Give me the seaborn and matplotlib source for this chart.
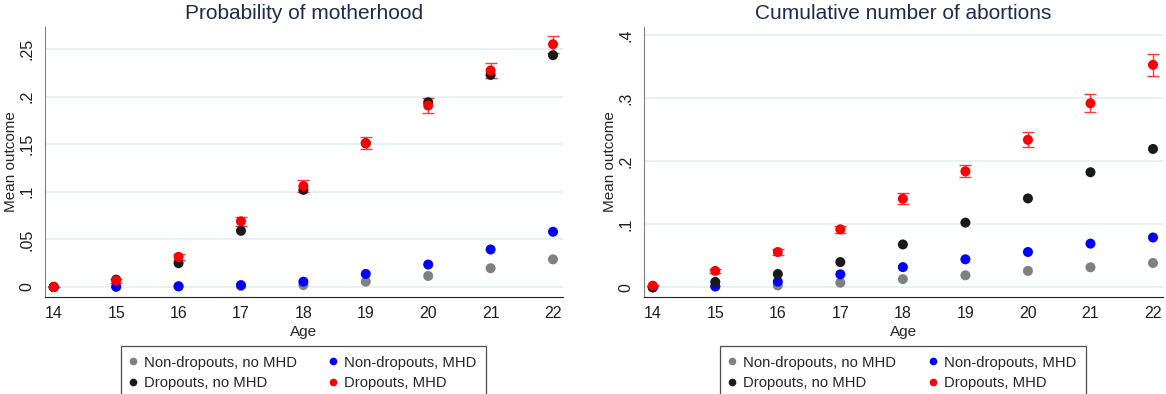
import matplotlib
matplotlib.use('Agg')
import matplotlib.pyplot as plt
from matplotlib.lines import Line2D
import seaborn as sns
import pandas as pd

sns.set_style('white')
plt.rcParams['font.family'] = ['Liberation Sans', 'DejaVu Sans']

ages = [14, 15, 16, 17, 18, 19, 20, 21, 22]
groups = ['Non-dropouts, no MHD', 'Non-dropouts, MHD',
          'Dropouts, no MHD', 'Dropouts, MHD']
colors = {'Non-dropouts, no MHD': '#808080',
          'Non-dropouts, MHD': '#0000ff',
          'Dropouts, no MHD': '#1a1a1a',
          'Dropouts, MHD': '#ff0000'}

# probability of motherhood
moth_nd_nomhd = [0.0, 0.0003, 0.0005, 0.001, 0.002, 0.0056, 0.0116, 0.0197, 0.029]
moth_nd_mhd = [0.0, 0.0003, 0.0008, 0.002, 0.0056, 0.0137, 0.0236, 0.0394, 0.058]
moth_d_nomhd = [0.0, 0.0077, 0.025, 0.059, 0.102, 0.151, 0.194, 0.2227, 0.2434]
moth_d_mhd = [0.0, 0.0067, 0.0317, 0.069, 0.106, 0.151, 0.1906, 0.2273, 0.2549]
moth_d_mhd_ci = [0.0, 0.002, 0.003, 0.005, 0.006, 0.006, 0.008, 0.008, 0.0087]

# cumulative number of abortions
abort_nd_nomhd = [0.0, 0.001, 0.003, 0.0074, 0.013, 0.019, 0.026, 0.0317, 0.0386]
abort_nd_mhd = [0.0, 0.0016, 0.009, 0.0206, 0.032, 0.0444, 0.056, 0.0693, 0.079]
abort_d_nomhd = [0.0, 0.0085, 0.021, 0.040, 0.068, 0.1026, 0.141, 0.1826, 0.2195]
abort_d_mhd = [0.0026, 0.026, 0.056, 0.092, 0.1405, 0.184, 0.234, 0.292, 0.353]
abort_d_mhd_ci = [0.001, 0.003, 0.004, 0.006, 0.009, 0.0097, 0.012, 0.0145, 0.0176]


def make_df(series):
    rows = []
    for g, vals in zip(groups, series):
        for a, v in zip(ages, vals):
            rows.append({'age': a, 'value': v, 'group': g})
    return pd.DataFrame(rows)


def draw_panel(ax, df, ci_vals, ci_mean, title, yticks, yticklabels, ylim):
    ax.errorbar(ages, ci_mean, yerr=ci_vals, fmt='none', ecolor='#ff3838',
                elinewidth=1.0, capsize=4.5, capthick=1.0, zorder=2)
    sns.scatterplot(data=df, x='age', y='value', hue='group',
                    palette=colors, hue_order=groups, s=52,
                    edgecolor='none', legend=False, ax=ax, zorder=3)
    ax.set_xlim(13.86, 22.16)
    ax.set_ylim(*ylim)
    ax.set_xticks(ages)
    ax.set_xticklabels([str(a) for a in ages])
    ax.set_yticks(yticks)
    ax.set_yticklabels(yticklabels, rotation=90, va='center')
    ax.yaxis.grid(True, color='#e8f0f2', linewidth=1.4)
    ax.xaxis.grid(False)
    ax.set_axisbelow(True)
    for s in ['top', 'right']:
        ax.spines[s].set_visible(False)
    ax.spines['left'].set_color('#808080')
    ax.spines['bottom'].set_color('#202020')
    ax.tick_params(axis='both', which='both', direction='out', length=4.5,
                   labelsize=11.5, colors='#202020', pad=2)
    ax.tick_params(axis='y', color='#808080', pad=3)
    ax.set_xlabel('Age', fontsize=11, labelpad=3)
    ax.set_ylabel('Mean outcome', fontsize=11, labelpad=1)
    ax.set_title(title, fontsize=15, color='#1e2b50', pad=6)
    handles = [Line2D([0], [0], marker='o', linestyle='', markersize=5.5,
                      markerfacecolor=colors[g], markeredgecolor='none',
                      label=g) for g in groups]
    order = [0, 2, 1, 3]
    leg = ax.legend([handles[i] for i in order], [groups[i] for i in order],
                    ncol=2, loc='upper left', frameon=True, fontsize=10.7,
                    bbox_to_anchor=(0.1467, -0.181, 0.7046, 0),
                    mode='expand', handletextpad=0.6,
                    handlelength=0.3, borderpad=0.65,
                    labelspacing=0.42, fancybox=False, borderaxespad=0)
    leg.get_frame().set_edgecolor('#202020')
    leg.get_frame().set_linewidth(0.9)


fig = plt.figure(figsize=(11.66, 3.94), dpi=100)
ax1 = fig.add_axes([45 / 1166, 1 - 297 / 394, 518 / 1166, 270 / 394])
ax2 = fig.add_axes([644 / 1166, 1 - 297 / 394, 519 / 1166, 270 / 394])

df1 = make_df([moth_nd_nomhd, moth_nd_mhd, moth_d_nomhd, moth_d_mhd])
draw_panel(ax1, df1, moth_d_mhd_ci, moth_d_mhd, 'Probability of motherhood',
           [0, 0.05, 0.1, 0.15, 0.2, 0.25],
           ['0', '.05', '.1', '.15', '.2', '.25'], (-0.0105, 0.273))

df2 = make_df([abort_nd_nomhd, abort_nd_mhd, abort_d_nomhd, abort_d_mhd])
draw_panel(ax2, df2, abort_d_mhd_ci, abort_d_mhd,
           'Cumulative number of abortions',
           [0, 0.1, 0.2, 0.3, 0.4], ['0', '.1', '.2', '.3', '.4'],
           (-0.0154, 0.413))

fig.savefig('out.png', dpi=100)
